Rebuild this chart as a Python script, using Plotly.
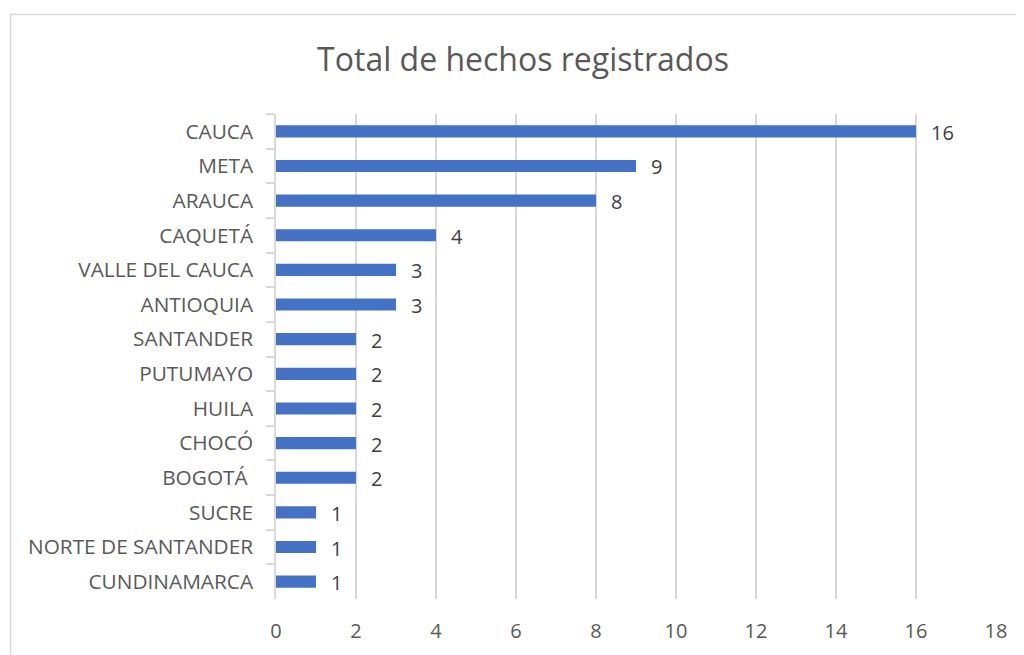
import plotly.graph_objects as go

categories = ["CAUCA", "META", "ARAUCA", "CAQUETÁ", "VALLE DEL CAUCA", "ANTIOQUIA",
              "SANTANDER", "PUTUMAYO", "HUILA", "CHOCÓ", "BOGOTÁ ", "SUCRE",
              "NORTE DE SANTANDER", "CUNDINAMARCA"]
values = [16, 9, 8, 4, 3, 3, 2, 2, 2, 2, 2, 1, 1, 1]
x_ticks = [0, 2, 4, 6, 8, 10, 12, 14, 16, 18]

FONT = "Open Sans, Noto Sans, sans-serif"
OFF = 8  # body margin of the html page
W, H = 1024 - OFF, 655 - OFF
ML, MR, MT, MB = 276 - OFF, 28, 114 - OFF, 56
pw, ph = W - ML - MR, H - MT - MB

fig = go.Figure(go.Bar(
    x=values, y=categories, orientation="h",
    marker=dict(color="#4472C4", line=dict(width=0)),
    width=0.35,
))

for c, v in zip(categories, values):
    fig.add_annotation(x=v, y=c, text=str(v), showarrow=False, xanchor="left",
                       xshift=13, yshift=-1,
                       font=dict(family=FONT, size=20, color="#404040"))

fig.update_layout(
    width=W, height=H,
    margin=dict(l=ML, r=MR, t=MT, b=MB),
    paper_bgcolor="white", plot_bgcolor="white",
    title=dict(text="Total de hechos registrados", x=(523 - 276) / pw, xref="paper",
               xanchor="center", y=1 - (60 - OFF) / H, yanchor="middle",
               font=dict(family=FONT, size=32, color="#595959")),
    showlegend=False,
    xaxis=dict(range=[0, 18], tickvals=x_ticks, showgrid=True, gridcolor="#d9d9d9",
               gridwidth=1.5, zeroline=False, showline=False,
               tickfont=dict(family=FONT, size=20, color="#595959"), ticklen=0,
               ticks="", ticklabelstandoff=18, fixedrange=True),
    yaxis=dict(autorange="reversed", type="category", showline=True, linecolor="#d9d9d9",
               linewidth=1.5, ticks="outside", tickson="boundaries", ticklen=8,
               tickcolor="#d9d9d9", tickwidth=1.5, showgrid=False,
               tickfont=dict(family=FONT, size=20.8, color="#595959"),
               ticklabelstandoff=17),
)

fig.add_shape(type="rect", xref="paper", yref="paper",
              x0=(10.5 - 276) / pw, x1=(1024 + 20 - 276) / pw,
              y0=-(60 + MB) / ph, y1=(599 - 14.5) / ph,
              line=dict(color="#d9d9d9", width=1.5), fillcolor="rgba(0,0,0,0)",
              layer="below")

fig.write_html("out.html")
